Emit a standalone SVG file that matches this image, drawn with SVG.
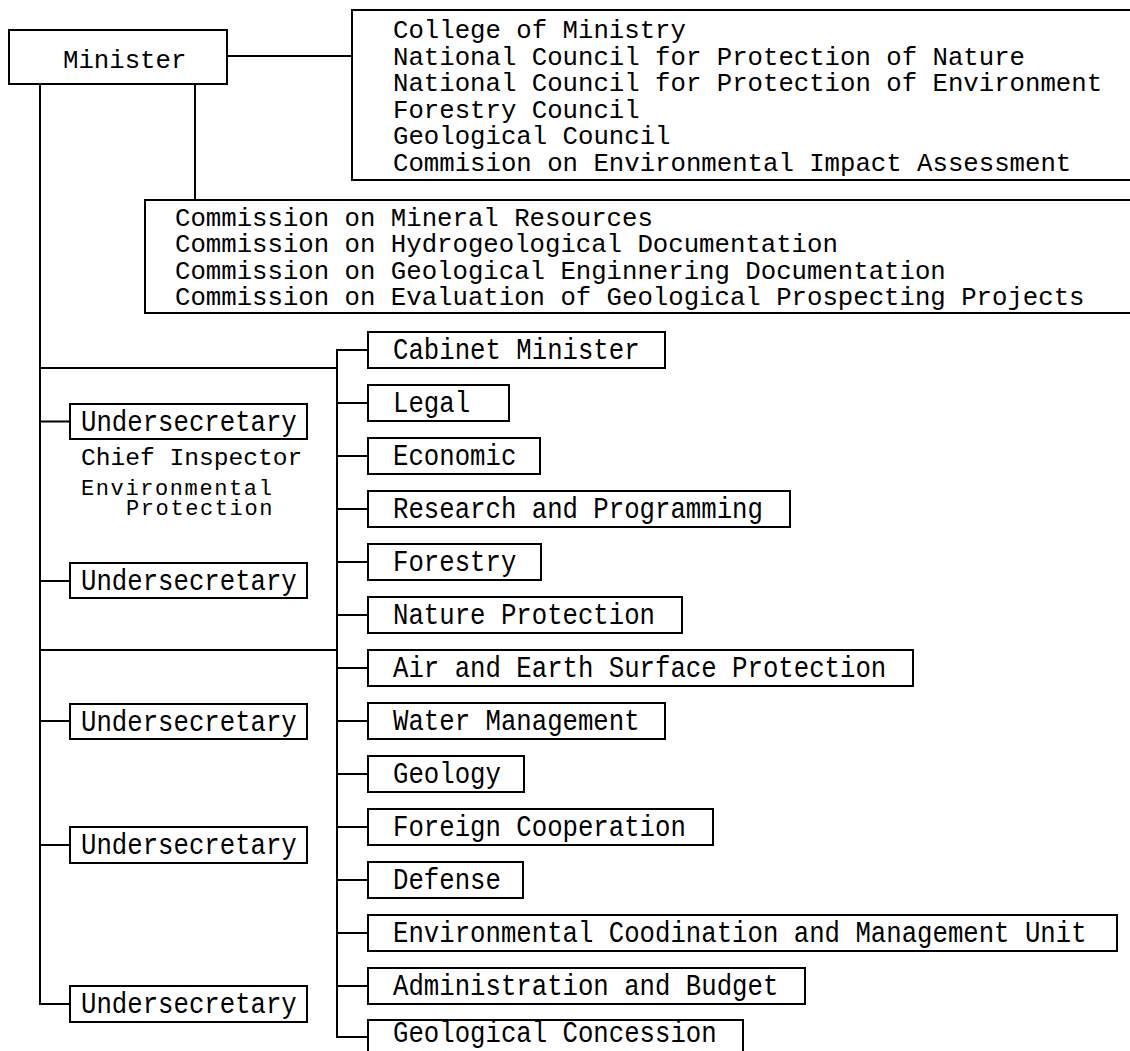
<svg xmlns="http://www.w3.org/2000/svg" width="1130" height="1051" viewBox="0 0 1130 1051">
<style>
  .bg { fill: #ffffff; }
  .box { fill: #ffffff; stroke: #000000; stroke-width: 2; }
  .ln { fill: none; stroke: #000000; stroke-width: 2; }
  text { font-family: "Liberation Mono", "DejaVu Sans Mono", monospace; font-size: 25.7px; fill: #000000; }
  .sm { font-size: 24.6px; }
  .xs { font-size: 22px; letter-spacing: 1.6px; }
</style>
<rect class="bg" x="0" y="0" width="1130" height="1051"/>

<g id="connectors">
  <path class="ln" d="M227 56 H352"/>
  <path class="ln" d="M195 84 V200"/>
  <path class="ln" d="M40 84 V1004 H70"/>
  <path class="ln" d="M40 421.5 H70"/>
  <path class="ln" d="M40 581 H70"/>
  <path class="ln" d="M40 721 H70"/>
  <path class="ln" d="M40 845 H70"/>
  <path class="ln" d="M40 368 H337"/>
  <path class="ln" d="M40 650 H337"/>
  <path class="ln" d="M368 350 H337 V1037 H368"/>
  <path class="ln" d="M337 403 H368"/>
  <path class="ln" d="M337 456 H368"/>
  <path class="ln" d="M337 509 H368"/>
  <path class="ln" d="M337 562 H368"/>
  <path class="ln" d="M337 615 H368"/>
  <path class="ln" d="M337 668 H368"/>
  <path class="ln" d="M337 721 H368"/>
  <path class="ln" d="M337 774 H368"/>
  <path class="ln" d="M337 827 H368"/>
  <path class="ln" d="M337 880 H368"/>
  <path class="ln" d="M337 933 H368"/>
  <path class="ln" d="M337 986 H368"/>
</g>

<g id="minister">
  <rect class="box" x="9" y="30" width="218" height="54"/>
  <text x="63" y="68">Minister</text>
</g>

<g id="councils">
  <rect class="box" x="352" y="10" width="800" height="170"/>
  <text x="393" y="38">College of Ministry</text>
  <text x="393" y="64.5">National Council for Protection of Nature</text>
  <text x="393" y="91">National Council for Protection of Environment</text>
  <text x="393" y="117.5">Forestry Council</text>
  <text x="393" y="144">Geological Council</text>
  <text x="393" y="170.5">Commision on Environmental Impact Assessment</text>
</g>

<g id="commissions">
  <rect class="box" x="145" y="200" width="1000" height="113"/>
  <text x="175" y="225.5">Commission on Mineral Resources</text>
  <text x="175" y="252">Commission on Hydrogeological Documentation</text>
  <text x="175" y="278.5">Commission on Geological Enginnering Documentation</text>
  <text x="175" y="305">Commission on Evaluation of Geological Prospecting Projects</text>
</g>

<g id="undersecretary1">
  <rect class="box" x="70" y="404" width="237" height="35"/>
  <text transform="translate(81 430.5) scale(1 1.17)">Undersecretary</text>
  <text class="sm" x="81" y="465">Chief Inspector</text>
  <text class="xs" x="81" y="495">Environmental</text>
  <text class="xs" x="126" y="515">Protection</text>
</g>
<g id="undersecretary2">
  <rect class="box" x="70" y="563" width="237" height="35"/>
  <text transform="translate(81 590) scale(1 1.17)">Undersecretary</text>
</g>
<g id="undersecretary3">
  <rect class="box" x="70" y="704" width="237" height="35"/>
  <text transform="translate(81 730.5) scale(1 1.17)">Undersecretary</text>
</g>
<g id="undersecretary4">
  <rect class="box" x="70" y="827" width="237" height="36"/>
  <text transform="translate(81 854) scale(1 1.17)">Undersecretary</text>
</g>
<g id="undersecretary5">
  <rect class="box" x="70" y="986" width="237" height="36"/>
  <text transform="translate(81 1013) scale(1 1.17)">Undersecretary</text>
</g>

<g id="cabinet-minister">
  <rect class="box" x="368" y="332" width="297" height="36"/>
  <text transform="translate(393 359) scale(1 1.17)">Cabinet Minister</text>
</g>
<g id="legal">
  <rect class="box" x="368" y="385" width="141" height="36"/>
  <text transform="translate(393 412) scale(1 1.17)">Legal</text>
</g>
<g id="economic">
  <rect class="box" x="368" y="438" width="172" height="36"/>
  <text transform="translate(393 465) scale(1 1.17)">Economic</text>
</g>
<g id="research">
  <rect class="box" x="368" y="491" width="422" height="36"/>
  <text transform="translate(393 518) scale(1 1.17)">Research and Programming</text>
</g>
<g id="forestry">
  <rect class="box" x="368" y="544" width="173" height="36"/>
  <text transform="translate(393 571) scale(1 1.17)">Forestry</text>
</g>
<g id="nature-protection">
  <rect class="box" x="368" y="597" width="314" height="36"/>
  <text transform="translate(393 624) scale(1 1.17)">Nature Protection</text>
</g>
<g id="air-earth">
  <rect class="box" x="368" y="650" width="545" height="36"/>
  <text transform="translate(393 677) scale(1 1.17)">Air and Earth Surface Protection</text>
</g>
<g id="water">
  <rect class="box" x="368" y="703" width="297" height="36"/>
  <text transform="translate(393 730) scale(1 1.17)">Water Management</text>
</g>
<g id="geology">
  <rect class="box" x="368" y="756" width="156" height="36"/>
  <text transform="translate(393 783) scale(1 1.17)">Geology</text>
</g>
<g id="foreign">
  <rect class="box" x="368" y="809" width="345" height="36"/>
  <text transform="translate(393 836) scale(1 1.17)">Foreign Cooperation</text>
</g>
<g id="defense">
  <rect class="box" x="368" y="862" width="155" height="36"/>
  <text transform="translate(393 889) scale(1 1.17)">Defense</text>
</g>
<g id="env-unit">
  <rect class="box" x="368" y="915" width="749" height="36"/>
  <text transform="translate(393 942) scale(1 1.17)">Environmental Coodination and Management Unit</text>
</g>
<g id="admin">
  <rect class="box" x="368" y="968" width="437" height="36"/>
  <text transform="translate(393 995) scale(1 1.17)">Administration and Budget</text>
</g>
<g id="concession">
  <rect class="box" x="368" y="1020" width="375" height="40"/>
  <text transform="translate(393 1042) scale(1 1.12)">Geological Concession</text>
</g>
</svg>
